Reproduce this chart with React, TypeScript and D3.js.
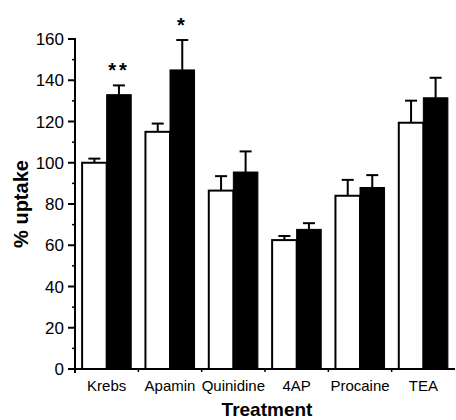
import React from "react";
import * as d3 from "d3";

const categories = ["Krebs", "Apamin", "Quinidine", "4AP", "Procaine", "TEA"];
const controlMeans = [100, 115, 86.5, 62.5, 84, 119.4];
const controlErrors = [2, 4, 7, 2, 7.7, 10.7];
const treatedMeans = [133, 145, 95.5, 67.7, 88, 131.5];
const treatedErrors = [4.5, 14.5, 10, 3, 6, 9.7];
const significance = ["**", "*", "", "", "", ""];
const yTicks = [0, 20, 40, 60, 80, 100, 120, 140, 160];
const yMinorTicks = [10, 30, 50, 70, 90, 110, 130, 150];

const W = 456;
const H = 420;
const FONT = "'Liberation Sans', Arial, Helvetica, sans-serif";

export default function App() {
  const x = d3.scaleBand<string>().domain(categories).range([75, 455]).padding(0);
  const inner = d3
    .scaleBand<string>()
    .domain(["c", "t"])
    .range([0, x.step()])
    .paddingInner(0)
    .paddingOuter(0.29);
  const y = d3.scaleLinear().domain([0, 160]).range([369, 39]);
  const bw = inner.bandwidth();
  const capW = 12;

  return (
    <svg
      width={W}
      height={H}
      style={{ position: "absolute", left: 0, top: 0, background: "#fff" }}
      fontFamily={FONT}
    >
      <rect x={0} y={0} width={W} height={H} fill="#fff" />
      {categories.map((c, i) => {
        const x0 = x(c)!;
        const xc = x0 + inner("c")!;
        const xt = x0 + inner("t")!;
        return (
          <g key={c}>
            <line x1={xc + bw / 2} x2={xc + bw / 2} y1={y(controlMeans[i])} y2={y(controlMeans[i] + controlErrors[i])} stroke="#000" strokeWidth={2} />
            <line x1={xc + bw / 2 - capW / 2} x2={xc + bw / 2 + capW / 2} y1={y(controlMeans[i] + controlErrors[i])} y2={y(controlMeans[i] + controlErrors[i])} stroke="#000" strokeWidth={2} />
            <rect x={xc} y={y(controlMeans[i])} width={bw} height={y(0) - y(controlMeans[i])} fill="#fff" stroke="#000" strokeWidth={2} />
            <line x1={xt + bw / 2} x2={xt + bw / 2} y1={y(treatedMeans[i])} y2={y(treatedMeans[i] + treatedErrors[i])} stroke="#000" strokeWidth={2} />
            <line x1={xt + bw / 2 - capW / 2} x2={xt + bw / 2 + capW / 2} y1={y(treatedMeans[i] + treatedErrors[i])} y2={y(treatedMeans[i] + treatedErrors[i])} stroke="#000" strokeWidth={2} />
            <rect x={xt} y={y(treatedMeans[i])} width={bw} height={y(0) - y(treatedMeans[i])} fill="#000" stroke="#000" strokeWidth={1} />
            {significance[i] && (
              <text
                x={xt + bw / 2}
                y={y(treatedMeans[i] + treatedErrors[i]) - 8}
                textAnchor="middle"
                fontSize={20}
                fontWeight="bold"
                letterSpacing={3}
              >
                {significance[i]}
              </text>
            )}
          </g>
        );
      })}
      <line x1={75} x2={75} y1={y(160) - 1} y2={y(0) + 4} stroke="#000" strokeWidth={2} />
      {yTicks.map((t) => (
        <g key={t}>
          <line x1={68} x2={75} y1={y(t)} y2={y(t)} stroke="#000" strokeWidth={2} />
          <text x={64} y={y(t)} dy="0.36em" textAnchor="end" fontSize={17}>
            {t}
          </text>
        </g>
      ))}
      {yMinorTicks.map((t) => (
        <line key={t} x1={72} x2={75} y1={y(t)} y2={y(t)} stroke="#000" strokeWidth={1.5} />
      ))}
      <line x1={74} x2={455} y1={y(0)} y2={y(0)} stroke="#000" strokeWidth={2} />
      {categories.slice(1).map((c) => (
        <line key={c} x1={x(c)!} x2={x(c)!} y1={y(0)} y2={y(0) + 3} stroke="#000" strokeWidth={1.5} />
      ))}
      {categories.map((c) => (
        <text key={c} x={x(c)! + x.bandwidth() / 2} y={391} textAnchor="middle" fontSize={15}>
          {c}
        </text>
      ))}
      <text x={267} y={416} textAnchor="middle" fontSize={19} fontWeight="bold">
        Treatment
      </text>
      <text
        transform={`translate(28,${(y(0) + y(160)) / 2}) rotate(-90)`}
        textAnchor="middle"
        fontSize={20}
        fontWeight="bold"
      >
        % uptake
      </text>
    </svg>
  );
}
